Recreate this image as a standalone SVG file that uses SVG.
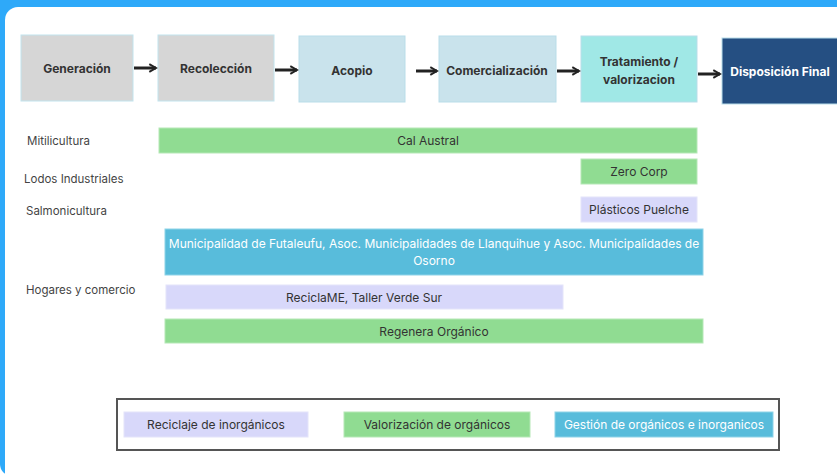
<svg xmlns="http://www.w3.org/2000/svg" width="837" height="476" viewBox="0 0 837 476">
<defs>
<style>
.t{font-family:Inter,"Liberation Sans",sans-serif;font-size:12px;fill:#333;}
.h{font-weight:bold;font-size:12px;}
.lbl{font-family:Inter,"Liberation Sans",sans-serif;font-size:11.5px;fill:#444;}
.w{fill:#fff;}
.grey{fill:#D6D6D6;stroke:#C2E4EE;stroke-width:1;}
.lb{fill:#C9E3EC;stroke:#B9DDE9;stroke-width:1;}
.cy{fill:#A0E8E6;stroke:#B9DDE9;stroke-width:1;}
.nv{fill:#254F82;stroke:#B9DDE9;stroke-width:1;}
.gr{fill:#90DC92;stroke:#B5E8B6;stroke-width:1;}
.lv{fill:#D8D8FA;stroke:#E4E4FA;stroke-width:1;}
.bl{fill:#58BCDB;stroke:#8ED3E8;stroke-width:1;}
.arr{stroke:#222;stroke-width:3;fill:none;}
</style>
<marker id="ah" viewBox="0 0 10 10" refX="8" refY="5" markerWidth="3.2" markerHeight="3.2" orient="auto" markerUnits="strokeWidth">
<path d="M1,1 L8,5 L1,9" fill="none" stroke="#222" stroke-width="2"/>
</marker>
</defs>
<rect x="0" y="-20" width="900" height="496" rx="12" fill="#2EA9F9"/>
<rect x="5" y="7" width="900" height="480" rx="13" fill="#fff"/>

<g id="generacion"><rect class="grey" x="21" y="35" width="112" height="66"/><text class="t h" x="77" y="73" text-anchor="middle">Generación</text></g>
<g id="recoleccion"><rect class="grey" x="158" y="35" width="116" height="66"/><text class="t h" x="216" y="73" text-anchor="middle">Recolección</text></g>
<g id="acopio"><rect class="lb" x="299" y="36" width="106" height="66"/><text class="t h" x="352" y="75" text-anchor="middle">Acopio</text></g>
<g id="comercializacion"><rect class="lb" x="439" y="36" width="117" height="66"/><text class="t h" x="497" y="75" text-anchor="middle">Comercialización</text></g>
<g id="tratamiento"><rect class="cy" x="581" y="36" width="116" height="66"/><text class="t h" x="639" y="66" text-anchor="middle">Tratamiento /</text><text class="t h" x="639" y="84" text-anchor="middle">valorizacion</text></g>
<g id="disposicion"><rect class="nv" x="722" y="38" width="120" height="66"/><text class="t h w" x="780" y="76" text-anchor="middle">Disposición Final</text></g>

<g id="connectors">
<line class="arr" x1="134" y1="68" x2="156" y2="68" marker-end="url(#ah)"/>
<line class="arr" x1="275" y1="70" x2="297" y2="70" marker-end="url(#ah)"/>
<line class="arr" x1="416" y1="71" x2="437" y2="71" marker-end="url(#ah)"/>
<line class="arr" x1="557" y1="71" x2="579" y2="71" marker-end="url(#ah)"/>
<line class="arr" x1="698" y1="74" x2="720" y2="74" marker-end="url(#ah)"/>
</g>

<g id="row-labels">
<text class="lbl" x="27" y="145">Mitilicultura</text>
<text class="lbl" x="24" y="183">Lodos Industriales</text>
<text class="lbl" x="26" y="215">Salmonicultura</text>
<text class="lbl" x="26" y="294">Hogares y comercio</text>
</g>

<g id="cal-austral"><rect class="gr" x="159" y="128" width="538" height="25"/><text class="t" x="428" y="145" text-anchor="middle">Cal Austral</text></g>
<g id="zero-corp"><rect class="gr" x="581" y="159" width="116" height="25"/><text class="t" x="639" y="176" text-anchor="middle">Zero Corp</text></g>
<g id="plasticos-puelche"><rect class="lv" x="581" y="197" width="116" height="25"/><text class="t" x="639" y="214" text-anchor="middle">Plásticos Puelche</text></g>
<g id="municipalidades"><rect class="bl" x="165" y="229" width="538" height="46"/><text class="t w" x="434" y="248" text-anchor="middle">Municipalidad de Futaleufu, Asoc. Municipalidades de Llanquihue y Asoc. Municipalidades de</text><text class="t w" x="434" y="265" text-anchor="middle">Osorno</text></g>
<g id="reciclame"><rect class="lv" x="166" y="285" width="397" height="24"/><text class="t" x="364" y="302" text-anchor="middle">ReciclaME, Taller Verde Sur</text></g>
<g id="regenera"><rect class="gr" x="165" y="319" width="538" height="24"/><text class="t" x="434" y="336" text-anchor="middle">Regenera Orgánico</text></g>

<g id="legend">
<rect x="117" y="399" width="662" height="51" fill="#fff" stroke="#555" stroke-width="2"/>
<rect class="lv" x="124" y="412" width="184" height="25"/><text class="t" x="216" y="429" text-anchor="middle">Reciclaje de inorgánicos</text>
<rect class="gr" x="344" y="412" width="186" height="25"/><text class="t" x="437" y="429" text-anchor="middle">Valorización de orgánicos</text>
<rect class="bl" x="555" y="412" width="218" height="25"/><text class="t w" x="664" y="429" text-anchor="middle">Gestión de orgánicos e inorganicos</text>
</g>
</svg>
